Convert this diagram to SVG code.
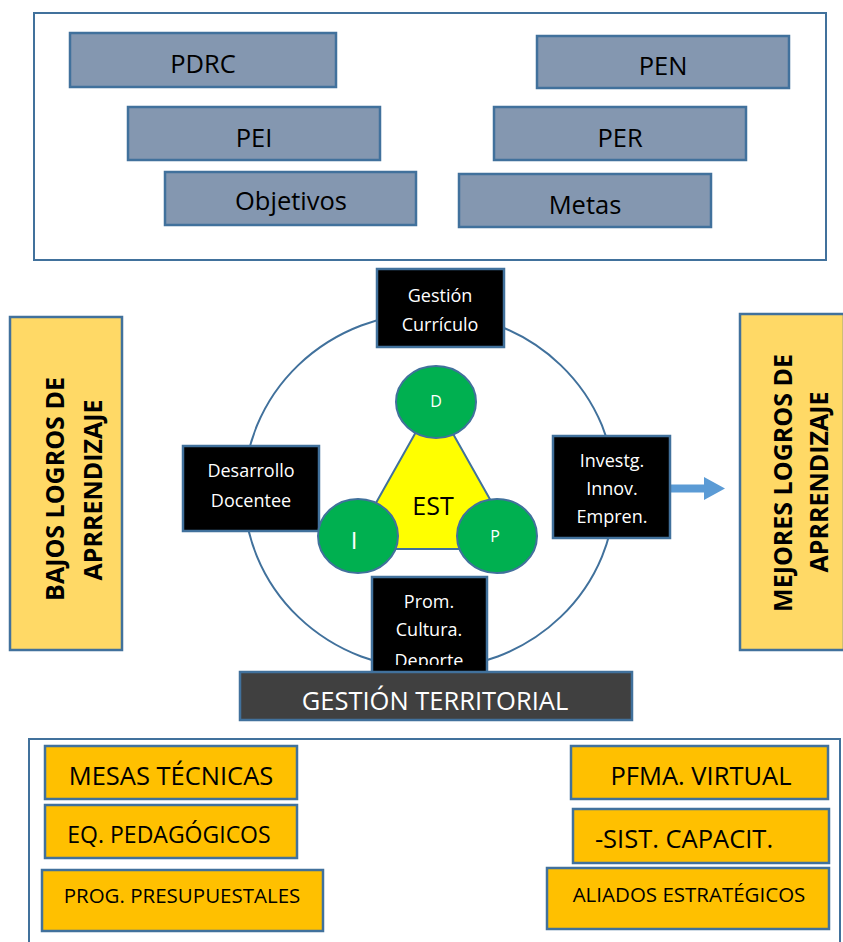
<svg xmlns="http://www.w3.org/2000/svg" width="843" height="942" viewBox="0 0 843 942">
<style>
text{font-family:"Open Sans","Noto Sans","Liberation Sans",sans-serif;text-anchor:middle}
.frame{fill:#fff;stroke:#41719C;stroke-width:2}
.slate{fill:#8497B0;stroke:#41719C;stroke-width:2.5}
.blk{fill:#000;stroke:#41719C;stroke-width:2.5}
.org{fill:#FFC000;stroke:#41719C;stroke-width:2.5}
.yel{fill:#FFD966;stroke:#41719C;stroke-width:2.5}
.grn{fill:#00B050;stroke:#41719C;stroke-width:2}
.t24{font-size:25.5px;fill:#000}
.w18{font-size:18px;fill:#fff}
.vb{font-size:25px;font-weight:bold;fill:#000}
</style>
<defs>
<clipPath id="promclip"><rect x="372" y="577" width="115" height="88"/></clipPath>
</defs>
<rect width="843" height="942" fill="#fff"/>
<g id="top-frame">
<rect class="frame" x="34" y="13" width="792" height="247"/>
</g>
<g id="pdrc"><rect class="slate" x="70" y="33" width="266" height="54"/><text class="t24" x="203" y="73">PDRC</text></g>
<g id="pen"><rect class="slate" x="537" y="36" width="252" height="52"/><text class="t24" x="663" y="75">PEN</text></g>
<g id="pei"><rect class="slate" x="128" y="107" width="252" height="53"/><text class="t24" x="254" y="147">PEI</text></g>
<g id="per"><rect class="slate" x="494" y="107" width="252" height="53"/><text class="t24" x="620" y="147">PER</text></g>
<g id="objetivos"><rect class="slate" x="165" y="172" width="251" height="53"/><text class="t24" x="291" y="210">Objetivos</text></g>
<g id="metas"><rect class="slate" x="459" y="174" width="252" height="53"/><text class="t24" x="585" y="214">Metas</text></g>

<g id="bajos"><rect class="yel" x="10" y="317" width="112" height="333"/>
<text class="vb" transform="translate(64,489) rotate(-90)">BAJOS LOGROS DE</text>
<text class="vb" transform="translate(102,490) rotate(-90)">APRRENDIZAJE</text></g>
<g id="mejores"><rect class="yel" x="740" y="314" width="104" height="336"/>
<text class="vb" transform="translate(792,483) rotate(-90)">MEJORES LOGROS DE</text>
<text class="vb" transform="translate(828,482) rotate(-90)">APRRENDIZAJE</text></g>

<g id="ring"><ellipse cx="429.5" cy="491" rx="185.5" ry="178" fill="none" stroke="#41719C" stroke-width="2"/></g>

<g id="connectors">
<path d="M670,484.5 H704 V477 L725,488.5 L704,500 V492.5 H670 Z" fill="#5B9BD5"/>
</g>

<g id="gestion-curriculo"><rect class="blk" x="377" y="269" width="127" height="78"/>
<text class="w18" x="440" y="302">Gestión</text><text class="w18" x="440" y="331">Currículo</text></g>
<g id="desarrollo"><rect class="blk" x="183" y="446" width="136" height="85"/>
<text class="w18" x="251" y="477">Desarrollo</text><text class="w18" x="251" y="507">Docentee</text></g>
<g id="investg"><rect class="blk" x="553" y="436" width="117" height="102"/>
<text class="w18" x="612" y="467">Investg.</text><text class="w18" x="612" y="495">Innov.</text><text class="w18" x="612" y="523">Empren.</text></g>

<g id="est"><polygon points="434,400 350,549 518,549" fill="#FFFF00" stroke="#41719C" stroke-width="2"/>
<text x="433" y="515" style="font-size:25px;fill:#000">EST</text></g>
<g id="d"><ellipse class="grn" cx="436" cy="402" rx="40" ry="36"/><text x="436" y="407" style="font-size:16px;fill:#fff">D</text></g>
<g id="i"><ellipse class="grn" cx="358" cy="536" rx="40" ry="37"/><text x="354" y="549" style="font-size:24px;fill:#fff">I</text></g>
<g id="p"><ellipse class="grn" cx="497" cy="536" rx="40" ry="37"/><text x="495" y="542" style="font-size:16px;fill:#fff">P</text></g>

<g id="prom"><rect class="blk" x="372" y="577" width="115" height="100"/>
<g clip-path="url(#promclip)"><text class="w18" x="429" y="608">Prom.</text><text class="w18" x="429" y="636">Cultura.</text><text class="w18" x="429" y="667">Deporte</text></g></g>
<g id="gestion-territorial"><rect x="240" y="672" width="392" height="48" fill="#404040" stroke="#41719C" stroke-width="2.5"/>
<text x="435" y="710" style="font-size:25.5px;fill:#fff">GESTIÓN TERRITORIAL</text></g>

<g id="bottom-frame"><rect class="frame" x="29" y="739" width="811" height="210"/></g>
<g id="mesas"><rect class="org" x="45" y="746" width="252" height="53"/><text class="t24" x="171" y="785">MESAS TÉCNICAS</text></g>
<g id="eq"><rect class="org" x="45" y="805" width="252" height="53"/><text x="169" y="843" style="font-size:23px">EQ. PEDAGÓGICOS</text></g>
<g id="prog"><rect class="org" x="42" y="870" width="281" height="61"/><text x="182" y="903" style="font-size:20.5px">PROG. PRESUPUESTALES</text></g>
<g id="pfma"><rect class="org" x="571" y="746" width="257" height="53"/><text class="t24" x="701" y="785">PFMA. VIRTUAL</text></g>
<g id="sist"><rect class="org" x="573" y="809" width="256" height="54"/><text class="t24" x="684" y="848">-SIST. CAPACIT.</text></g>
<g id="aliados"><rect class="org" x="547" y="868" width="282" height="61"/><text x="689" y="902" style="font-size:20.5px">ALIADOS ESTRATÉGICOS</text></g>
</svg>
